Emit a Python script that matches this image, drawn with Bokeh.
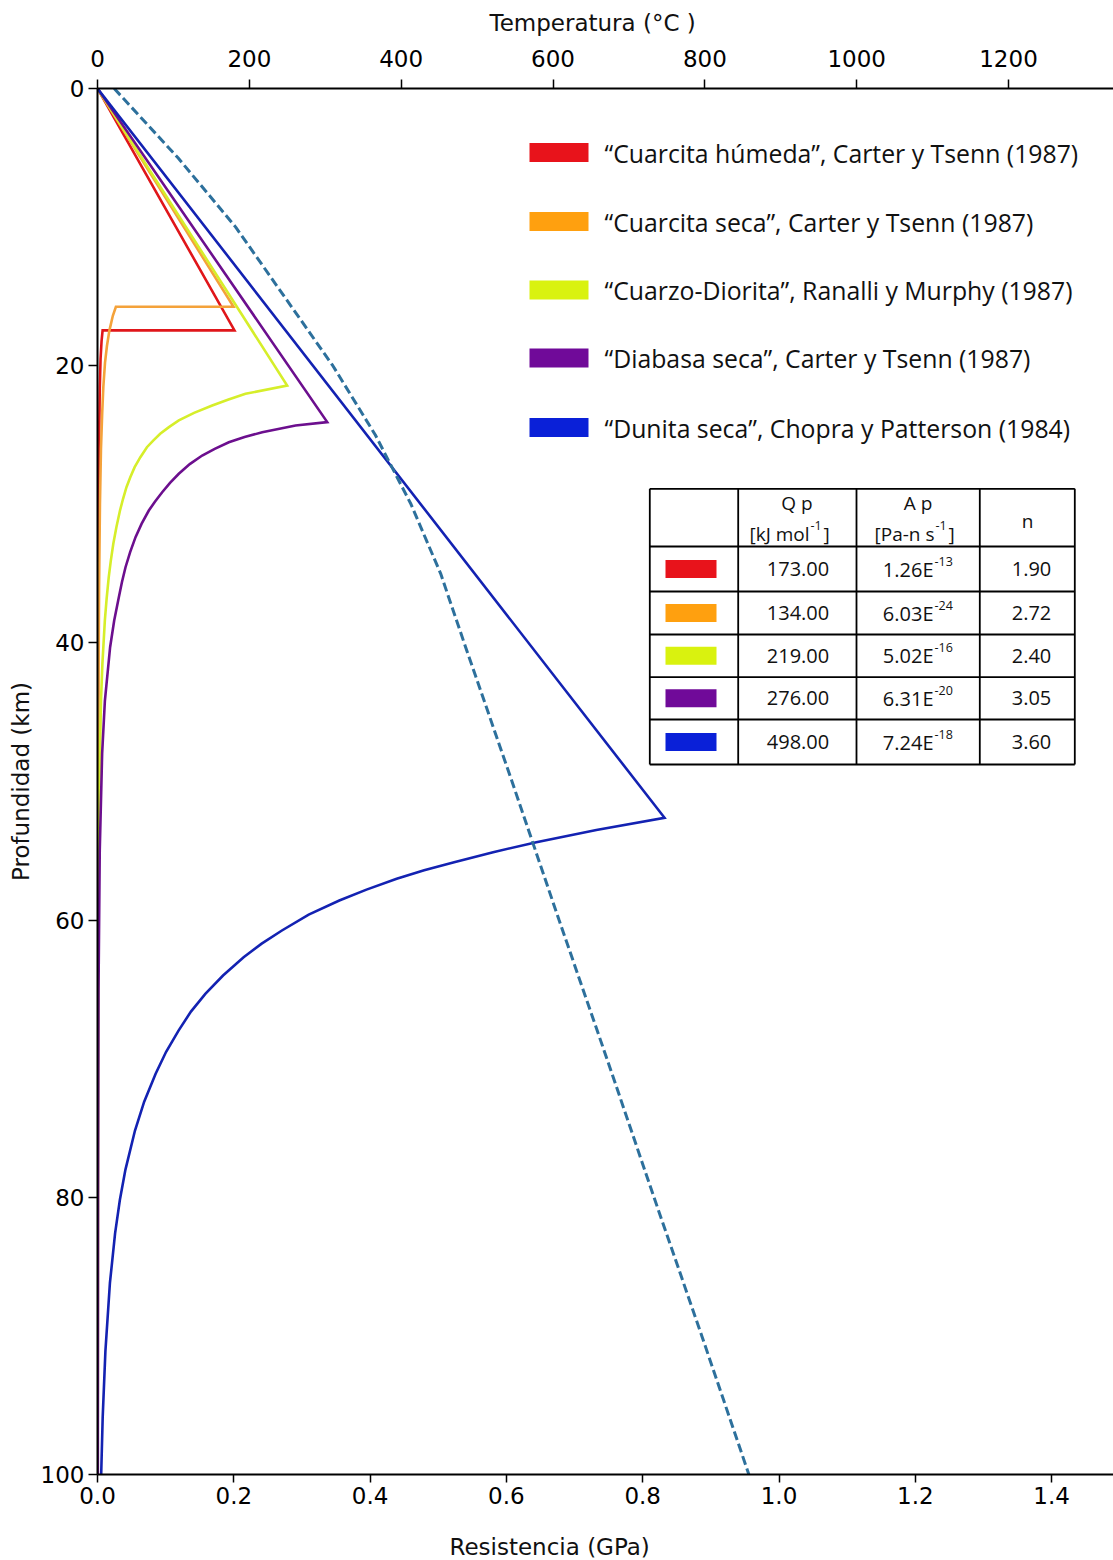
from bokeh.core.properties import value
from bokeh.embed import file_html
from bokeh.models import FixedTicker, LinearAxis, NumeralTickFormatter, Range1d, Title
from bokeh.plotting import figure
from bokeh.resources import INLINE

# ---------------------------------------------------------------------------
# Strength envelopes: resistance (GPa) against depth (km)
# ---------------------------------------------------------------------------
red_depth = [0, 17.45, 17.45, 18.2, 19.5, 21.5, 25, 30, 40, 60, 100]
red_gpa = [0, 0.201, 0.0075, 0.006, 0.0045, 0.0034, 0.0024, 0.0016, 0.0009, 0.0004, 0.0002]

orange_depth = [0, 15.75, 15.75, 16.4, 17.45, 18.6, 19.8, 21.5, 23.4, 26, 30, 36, 45, 60, 100]
orange_gpa = [0, 0.1996, 0.027, 0.0225, 0.0175, 0.0138, 0.011, 0.0086, 0.0069, 0.0051,
              0.0036, 0.0023, 0.0013, 0.0007, 0.0003]

yellow_depth = [0, 21.43, 22.03, 22.45, 22.87, 23.4, 23.95, 24.43, 24.91, 25.4, 25.88, 26.6,
                27.32, 28.05, 28.77, 29.6, 30.45, 31.65, 32.85, 34.05, 35.26, 36.8, 38.38,
                41.5, 44.2, 50, 60, 75, 100]
yellow_gpa = [0, 0.2783, 0.2172, 0.1912, 0.1683, 0.1417, 0.1193, 0.1048, 0.092, 0.0817, 0.0725,
              0.0629, 0.0545, 0.0481, 0.0425, 0.0375, 0.033, 0.0277, 0.0232, 0.0196, 0.0165,
              0.0134, 0.0108, 0.0072, 0.0051, 0.0028, 0.0013, 0.0006, 0.0003]

purple_depth = [0, 24.07, 24.31, 24.8, 25.15, 25.52, 26.0, 26.48, 27.1, 27.8, 28.45, 29.13,
                29.8, 30.45, 31.4, 32.37, 33.45, 34.54, 35.6, 36.7, 38.38, 40.31, 44.2, 48,
                55, 65, 80, 100]
purple_gpa = [0, 0.3371, 0.2906, 0.2417, 0.2158, 0.1927, 0.172, 0.1536, 0.1354, 0.1193, 0.1064,
              0.0949, 0.0845, 0.0753, 0.0648, 0.0558, 0.0479, 0.0411, 0.0359, 0.0313, 0.0245,
              0.0185, 0.0108, 0.0068, 0.0033, 0.0015, 0.0008, 0.0005]

blue_depth = [0, 52.62, 53.5, 54.38, 55.1, 55.82, 56.4, 57.02, 57.8, 58.59, 59.6, 60.75, 61.7,
              62.68, 64.0, 65.32, 66.6, 67.97, 69.5, 71.09, 73.1, 75.18, 78.0, 80.2, 82.6,
              86.2, 91.1, 95.9, 100]
blue_gpa = [0, 0.832, 0.732, 0.6439, 0.5805, 0.5233, 0.4793, 0.439, 0.3947, 0.3548, 0.3099,
            0.2706, 0.2409, 0.2144, 0.1842, 0.1582, 0.1371, 0.1189, 0.1007, 0.0853, 0.0685,
            0.055, 0.041, 0.0328, 0.0258, 0.0182, 0.0116, 0.0076, 0.0054]

# Geotherm: temperature (°C) against depth (km)
geotherm_depth = [0, 5, 10, 15, 20, 25, 30, 35, 40, 50, 60, 70, 80, 90, 100]
geotherm_temp = [22, 106, 182, 246, 310, 366, 413, 452, 483, 546, 608, 671, 733, 796, 858]

# Legend and parameter table
rock_labels = [
    "“Cuarcita húmeda”, Carter y Tsenn (1987)",
    "“Cuarcita seca”, Carter y Tsenn (1987)",
    "“Cuarzo-Diorita”, Ranalli y Murphy (1987)",
    "“Diabasa seca”, Carter y Tsenn (1987)",
    "“Dunita seca”, Chopra y Patterson (1984)",
]
qp_vals = ["173.00", "134.00", "219.00", "276.00", "498.00"]
ap_mantissa = ["1.26E", "6.03E", "5.02E", "6.31E", "7.24E"]
ap_exponent = ["-13", "-24", "-16", "-20", "-18"]
n_vals = ["1.90", "2.72", "2.40", "3.05", "3.60"]

gpa_ticks = [0.0, 0.2, 0.4, 0.6, 0.8, 1.0, 1.2, 1.4]
temp_ticks = [0, 200, 400, 600, 800, 1000, 1200]
depth_ticks = [0, 20, 40, 60, 80, 100]

# ---------------------------------------------------------------------------
# Styling
# ---------------------------------------------------------------------------
line_colors = ["#e0161a", "#f4a23a", "#d6ee2a", "#6c0f8e", "#1322b2"]
swatch_colors = ["#e8131b", "#ffa00f", "#d9f20f", "#700a99", "#0a20d8"]
GEOTHERM_COLOR = "#2d709c"
LABEL_FONT = "Open Sans"
AXIS_FONT = "DejaVu Sans"

W, H = 1113, 1560
FRAME_L, FRAME_R, FRAME_T, FRAME_B = 97, 1113, 88, 1474
X_MAX = 1.4908      # GPa at the right edge of the frame
T_MAX = 1338.3      # °C at the right edge of the frame
Y_MAX = 100.0       # km at the bottom of the frame


def gx(px):
    """Horizontal page pixel -> resistance units."""
    return (px - FRAME_L) / (FRAME_R - FRAME_L) * X_MAX


def gy(py):
    """Vertical page pixel -> depth units."""
    return (py - FRAME_T) / (FRAME_B - FRAME_T) * Y_MAX


p = figure(
    width=W, height=H, output_backend="svg", toolbar_location=None, title_location=None,
    x_range=Range1d(0, X_MAX), y_range=Range1d(Y_MAX, 0),
    min_border_left=FRAME_L, min_border_right=W - FRAME_R,
    min_border_top=FRAME_T, min_border_bottom=H - FRAME_B,
)
p.extra_x_ranges = {"temp": Range1d(0, T_MAX)}
p.outline_line_color = None
p.grid.visible = False
p.background_fill_color = "white"
p.border_fill_color = "white"

top_axis = LinearAxis(x_range_name="temp", ticker=FixedTicker(ticks=temp_ticks))
p.add_layout(top_axis, "above")

bottom_axis = p.below[0]
left_axis = p.left[0]
bottom_axis.ticker = FixedTicker(ticks=gpa_ticks)
bottom_axis.formatter = NumeralTickFormatter(format="0.0")
left_axis.ticker = FixedTicker(ticks=depth_ticks)
left_axis.axis_label = "Profundidad (km)"

for ax in (top_axis, bottom_axis, left_axis):
    ax.axis_line_width = 2
    ax.axis_line_color = "black"
    ax.major_tick_line_width = 1.5
    ax.major_tick_line_color = "black"
    ax.major_tick_in = 0
    ax.major_tick_out = 9
    ax.minor_tick_line_color = None
    ax.minor_tick_out = 0
    ax.major_label_text_font = AXIS_FONT
    ax.major_label_text_font_size = "23px"
    ax.major_label_text_color = "black"
    ax.axis_label_text_font = AXIS_FONT
    ax.axis_label_text_font_size = "23px"
    ax.axis_label_text_font_style = "normal"
    ax.axis_label_text_color = "#111111"
top_axis.major_label_standoff = 13
bottom_axis.major_tick_out = 8
bottom_axis.major_label_standoff = 4
left_axis.major_label_standoff = 4
left_axis.axis_label_standoff = 4

# Axis titles, placed from the left edge of the frame
title_style = dict(text_font=AXIS_FONT, text_font_size="23px", text_font_style="normal",
                   text_color="#111111", align="left")
p.add_layout(Title(text="Temperatura (°C )", offset=392, standoff=18, vertical_align="top",
                   **title_style), "above")
# thin blank band between the resistance ticks and their title
p.add_layout(Title(text=" ", text_font=AXIS_FONT, text_font_size="1px", standoff=22), "below")
p.add_layout(Title(text="Resistencia (GPa)", offset=352, standoff=0, vertical_align="bottom",
                   **title_style), "below")

# Envelopes
series = [
    (red_gpa, red_depth), (orange_gpa, orange_depth), (yellow_gpa, yellow_depth),
    (purple_gpa, purple_depth), (blue_gpa, blue_depth),
]
for (xs, ys), col in zip(series, line_colors):
    p.line(xs, ys, line_color=col, line_width=2.6, line_join="miter")

# Geotherm on the temperature scale
p.line(geotherm_temp, geotherm_depth, x_range_name="temp", line_color=GEOTHERM_COLOR,
       line_width=3, line_dash="9 4")

# Legend
leg_y = [gy(v) for v in (152, 221, 289.5, 357.5, 427)]
p.rect(x=[(gx(529) + gx(588)) / 2] * 5, y=leg_y, width=gx(588) - gx(529),
       height=gy(19) - gy(0), fill_color=swatch_colors, line_color=None)
p.text(x=[gx(604)] * 5, y=leg_y, text=rock_labels, text_font=value(LABEL_FONT),
       text_font_size="24.8px", text_color="#111111", text_baseline="middle", text_align="left")

# Parameter table
col_px = [649.3, 737.7, 856, 979.3, 1074.3]
row_px = [488.3, 546, 591, 634, 676.7, 719, 764]
p.quad(left=gx(col_px[0]), right=gx(col_px[-1]), top=gy(row_px[0]), bottom=gy(row_px[-1]),
       fill_color="white", line_color=None)
p.segment(x0=[gx(c) for c in col_px], y0=[gy(row_px[0])] * len(col_px),
          x1=[gx(c) for c in col_px], y1=[gy(row_px[-1])] * len(col_px),
          line_color="black", line_width=1.8)
p.segment(x0=[gx(col_px[0])] * len(row_px), y0=[gy(r) for r in row_px],
          x1=[gx(col_px[-1])] * len(row_px), y1=[gy(r) for r in row_px],
          line_color="black", line_width=1.8)

row_mid = [(row_px[i] + row_px[i + 1]) / 2 for i in range(1, 6)]
row_y = [gy(r) for r in row_mid]
row_sup_y = [gy(r - 8) for r in row_mid]

p.rect(x=[(gx(665) + gx(716)) / 2] * 5, y=row_y, width=gx(716) - gx(665),
       height=gy(18) - gy(0), fill_color=swatch_colors, line_color=None)

cell_font = dict(text_font=value(LABEL_FONT), text_color="#111111", text_baseline="middle")
p.text(x=[gx(797.5)] * 5, y=row_y, text=qp_vals, text_font_size="20px", text_align="center",
       **cell_font)
p.text(x=[gx(933)] * 5, y=row_y, text=ap_mantissa, text_font_size="20px", text_align="right",
       **cell_font)
p.text(x=[gx(934)] * 5, y=row_sup_y, text=ap_exponent, text_font_size="12.5px",
       text_align="left", **cell_font)
p.text(x=[gx(1031)] * 5, y=row_y, text=n_vals, text_font_size="20px", text_align="center",
       **cell_font)

# Table header
p.text(x=[gx(796.5), gx(917.5)], y=[gy(502)] * 2, text=["Q p", "A p"], text_font_size="19px",
       text_align="center", **cell_font)
p.text(x=[gx(1027)], y=[gy(520)], text=["n"], text_font_size="19px", text_align="center",
       **cell_font)
p.text(x=[gx(809), gx(934)], y=[gy(533)] * 2, text=["[kJ mol", "[Pa-n s"],
       text_font_size="19px", text_align="right", **cell_font)
p.text(x=[gx(810), gx(935)], y=[gy(525)] * 2, text=["-1", "-1"], text_font_size="12.5px",
       text_align="left", **cell_font)
p.text(x=[gx(823), gx(948)], y=[gy(533)] * 2, text=["]", "]"], text_font_size="19px",
       text_align="left", **cell_font)

open("out.html", "w").write(file_html(p, INLINE))
